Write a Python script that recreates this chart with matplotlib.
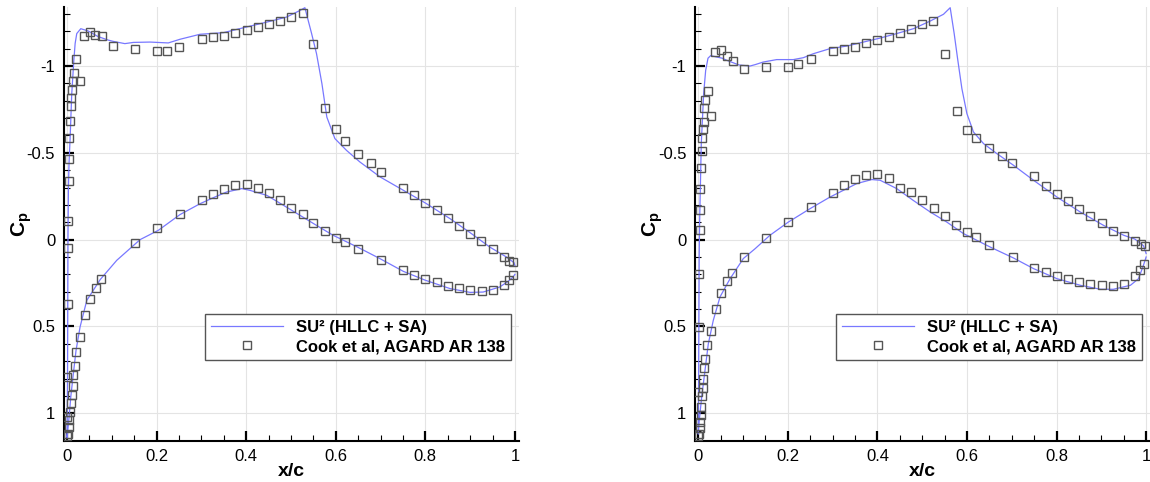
import matplotlib
matplotlib.use("Agg")
import matplotlib.pyplot as plt
from matplotlib.ticker import MultipleLocator, FuncFormatter
from matplotlib.lines import Line2D

plt.rcParams['font.family'] = ['Liberation Sans', 'DejaVu Sans']
plt.rcParams['axes.unicode_minus'] = False
plt.rcParams['mathtext.fontset'] = 'custom'
plt.rcParams['mathtext.bf'] = 'Liberation Sans:bold'
plt.rcParams['mathtext.rm'] = 'Liberation Sans'

# ---------------- Case A ----------------
# SU2 (HLLC + SA) surface pressure, upper and lower surfaces (LE -> TE)
cfd_a_upper_x = [0.0, 0.001, 0.0015, 0.002, 0.003, 0.0045, 0.0067, 0.0104, 0.015, 0.018,
                 0.0216, 0.0306, 0.047, 0.069, 0.091, 0.103, 0.129, 0.148, 0.185, 0.226,
                 0.252, 0.297, 0.349, 0.401, 0.446, 0.49, 0.52, 0.531, 0.546, 0.557,
                 0.569, 0.58, 0.598, 0.624, 0.654, 0.699, 0.751, 0.800, 0.855, 0.9,
                 0.944, 0.981, 0.998, 1.0]
cfd_a_upper_cp = [1.14, 0.8, 0.4, 0.0, -0.3, -0.45, -0.58, -0.84, -1.03, -1.13,
                  -1.187, -1.215, -1.202, -1.17, -1.15, -1.142, -1.129, -1.136, -1.138, -1.133,
                  -1.154, -1.183, -1.192, -1.225, -1.253, -1.282, -1.32, -1.336, -1.187, -1.071,
                  -0.899, -0.706, -0.582, -0.514, -0.447, -0.361, -0.284, -0.211, -0.121, -0.04,
                  0.043, 0.10, 0.133, 0.15]
cfd_a_lower_x = [0.0, 0.0015, 0.0045, 0.0082, 0.014, 0.02, 0.029, 0.044, 0.074, 0.111,
                 0.163, 0.204, 0.252, 0.297, 0.327, 0.356, 0.39, 0.408, 0.446, 0.483,
                 0.52, 0.557, 0.594, 0.65, 0.699, 0.751, 0.8, 0.855, 0.9, 0.929,
                 0.966, 0.985, 0.996, 1.0]
cfd_a_lower_cp = [1.137, 1.099, 1.022, 0.907, 0.772, 0.638, 0.503, 0.35, 0.23, 0.119,
                  0.0, -0.054, -0.144, -0.207, -0.242, -0.274, -0.294, -0.284, -0.255, -0.198,
                  -0.14, -0.082, -0.025, 0.045, 0.11, 0.183, 0.234, 0.282, 0.304, 0.302,
                  0.273, 0.24, 0.215, 0.2]

# Cook et al, AGARD AR 138 measurements
exp_a_upper_x = [0.003, 0.003, 0.0045, 0.0045, 0.005, 0.0067, 0.0082, 0.0097, 0.011, 0.0134,
                 0.0156, 0.021, 0.0297, 0.0387, 0.051, 0.063, 0.077, 0.102, 0.151, 0.2016,
                 0.2225, 0.251, 0.301, 0.3266, 0.351, 0.376, 0.401, 0.426, 0.451, 0.476,
                 0.501, 0.526, 0.550, 0.5766, 0.601, 0.620, 0.650, 0.678, 0.701, 0.750,
                 0.775, 0.800, 0.826, 0.850, 0.875, 0.900, 0.925, 0.951, 0.975, 0.987,
                 0.996]
exp_a_upper_cp = [0.046, -0.107, -0.336, -0.463, -0.585, -0.681, -0.768, -0.818, -0.86, -0.914,
                  -0.962, -1.043, -0.914, -1.173, -1.194, -1.179, -1.173, -1.113, -1.098, -1.085,
                  -1.089, -1.112, -1.154, -1.165, -1.173, -1.192, -1.21, -1.227, -1.242, -1.259,
                  -1.282, -1.307, -1.125, -0.756, -0.635, -0.568, -0.495, -0.44, -0.392, -0.30,
                  -0.257, -0.211, -0.169, -0.123, -0.077, -0.034, 0.01, 0.054, 0.10, 0.125,
                  0.13]
exp_a_lower_x = [0.0, 0.0, 0.0005, 0.0015, 0.003, 0.004, 0.0052, 0.0067, 0.0089, 0.0105,
                 0.0127, 0.014, 0.0171, 0.0208, 0.028, 0.0395, 0.0513, 0.064, 0.0766, 0.151,
                 0.2016, 0.2515, 0.301, 0.3266, 0.351, 0.376, 0.401, 0.426, 0.451, 0.476,
                 0.501, 0.526, 0.550, 0.5766, 0.601, 0.620, 0.650, 0.701, 0.750, 0.775,
                 0.800, 0.826, 0.850, 0.876, 0.900, 0.926, 0.951, 0.975, 0.987, 0.996]
exp_a_lower_cp = [1.13, 0.79, 1.02, 0.373, 1.12, 1.08, 1.041, 0.995, 0.941, 0.895,
                  0.841, 0.782, 0.728, 0.647, 0.563, 0.436, 0.344, 0.276, 0.225, 0.02,
                  -0.065, -0.15, -0.226, -0.265, -0.294, -0.317, -0.319, -0.299, -0.268, -0.23,
                  -0.184, -0.146, -0.098, -0.052, -0.011, 0.014, 0.053, 0.119, 0.177, 0.202,
                  0.229, 0.246, 0.265, 0.277, 0.29, 0.294, 0.288, 0.26, 0.234, 0.206]

# ---------------- Case B ----------------
cfd_b_upper_x = [0.0, 0.0008, 0.0015, 0.002, 0.003, 0.0038, 0.0067, 0.012, 0.0165, 0.0217,
                 0.0277, 0.041, 0.0536, 0.0634, 0.091, 0.1155, 0.127, 0.145, 0.175, 0.212,
                 0.2346, 0.257, 0.294, 0.3316, 0.3687, 0.406, 0.443, 0.4805, 0.5178, 0.5475,
                 0.5625, 0.5714, 0.579, 0.5886, 0.5998, 0.6145, 0.637, 0.667, 0.704, 0.7486,
                 0.801, 0.853, 0.905, 0.95, 0.975, 0.994, 1.0]
cfd_b_upper_cp = [1.12, 0.8, 0.4, 0.1, -0.1, -0.2, -0.553, -0.841, -0.975, -1.045,
                  -1.06, -1.052, -1.045, -1.033, -1.006, -1.0, -1.008, -1.023, -1.037, -1.037,
                  -1.048, -1.071, -1.10, -1.115, -1.138, -1.161, -1.187, -1.215, -1.259, -1.298,
                  -1.336, -1.187, -1.043, -0.87, -0.726, -0.62, -0.553, -0.495, -0.428, -0.342,
                  -0.245, -0.159, -0.082, -0.025, -0.003, 0.035, 0.08]
cfd_b_lower_x = [0.0, 0.0022, 0.0076, 0.015, 0.0224, 0.0335, 0.0485, 0.071, 0.1006, 0.127,
                 0.16, 0.201, 0.25, 0.294, 0.324, 0.354, 0.3875, 0.406, 0.443, 0.48,
                 0.518, 0.555, 0.592, 0.652, 0.704, 0.7486, 0.801, 0.853, 0.898, 0.927,
                 0.965, 0.983, 0.994, 1.0]
cfd_b_lower_cp = [1.118, 1.041, 0.907, 0.753, 0.6, 0.465, 0.33, 0.225, 0.109, 0.052,
                  -0.025, -0.101, -0.179, -0.245, -0.284, -0.323, -0.346, -0.342, -0.294, -0.226,
                  -0.159, -0.101, -0.035, 0.043, 0.106, 0.167, 0.225, 0.263, 0.286, 0.286,
                  0.263, 0.225, 0.148, 0.10]

exp_b_upper_x = [0.003, 0.0038, 0.0045, 0.006, 0.0076, 0.009, 0.0098, 0.012, 0.0134, 0.0157,
                 0.021, 0.0284, 0.037, 0.0514, 0.0634, 0.0768, 0.1014, 0.1506, 0.2011, 0.222,
                 0.251, 0.301, 0.326, 0.351, 0.3754, 0.4, 0.4255, 0.4507, 0.476, 0.5006,
                 0.525, 0.551, 0.5766, 0.601, 0.6206, 0.650, 0.6787, 0.701, 0.750, 0.7755,
                 0.801, 0.826, 0.851, 0.875, 0.9006, 0.926, 0.951, 0.976, 0.9886, 0.997]
exp_b_upper_cp = [-0.054, -0.169, -0.29, -0.412, -0.509, -0.587, -0.639, -0.677, -0.76, -0.802,
                  -0.856, -0.712, -1.08, -1.09, -1.056, -1.029, -0.983, -0.994, -0.996, -1.012,
                  -1.04, -1.085, -1.098, -1.109, -1.131, -1.152, -1.167, -1.192, -1.213, -1.24,
                  -1.259, -1.067, -0.741, -0.631, -0.585, -0.528, -0.48, -0.443, -0.365, -0.311,
                  -0.265, -0.221, -0.179, -0.134, -0.094, -0.05, -0.02, 0.009, 0.026, 0.037]
exp_b_lower_x = [0.0, 0.001, 0.001, 0.0, 0.0016, 0.003, 0.0038, 0.0053, 0.0067, 0.0083,
                 0.0098, 0.0112, 0.0127, 0.0157, 0.0201, 0.0284, 0.0388, 0.0507, 0.0634, 0.076,
                 0.1014, 0.1506, 0.2011, 0.251, 0.301, 0.326, 0.351, 0.3754, 0.4, 0.4255,
                 0.4507, 0.476, 0.5006, 0.526, 0.551, 0.576, 0.601, 0.6206, 0.650, 0.7017,
                 0.750, 0.7755, 0.801, 0.826, 0.851, 0.875, 0.9006, 0.926, 0.951, 0.976,
                 0.987, 0.996]
exp_b_lower_cp = [1.13, 0.196, 0.503, 0.878, 1.122, 1.085, 1.05, 1.012, 0.964, 0.903,
                  0.857, 0.805, 0.741, 0.688, 0.609, 0.528, 0.40, 0.307, 0.24, 0.19,
                  0.10, -0.012, -0.101, -0.188, -0.268, -0.313, -0.351, -0.374, -0.38, -0.356,
                  -0.297, -0.274, -0.226, -0.18, -0.134, -0.086, -0.042, -0.013, 0.033, 0.10,
                  0.161, 0.188, 0.211, 0.229, 0.246, 0.253, 0.263, 0.267, 0.253, 0.21,
                  0.173, 0.138]

x_ticks = [0, 0.2, 0.4, 0.6, 0.8, 1]
cp_ticks = [-1, -0.5, 0, 0.5, 1]
legend_labels = ['SU\u00b2 (HLLC + SA)', 'Cook et al, AGARD AR 138']

LINE_COLOR = '#7878ff'
MARK_EDGE = '#555555'


def fmt(v, pos):
    return '%g' % v


def draw_panel(ax, up_x, up_cp, lo_x, lo_cp, ex_ux, ex_ucp, ex_lx, ex_lcp):
    # one continuous contour: TE -> upper -> LE -> lower -> TE
    cx = list(reversed(up_x)) + list(lo_x)
    cy = list(reversed(up_cp)) + list(lo_cp)
    ax.plot(cx, cy, color=LINE_COLOR, lw=0.9, zorder=3)
    ax.plot(ex_ux + ex_lx, ex_ucp + ex_lcp, ls='none', marker='s', ms=5.2,
            mfc='none', mec=MARK_EDGE, mew=1.0, zorder=4)

    ax.set_xlim(-0.008, 1.008)
    ax.set_ylim(1.16, -1.34)
    ax.set_xticks(x_ticks)
    ax.set_yticks(cp_ticks)
    ax.xaxis.set_minor_locator(MultipleLocator(0.05))
    ax.yaxis.set_minor_locator(MultipleLocator(0.1))
    ax.xaxis.set_major_formatter(FuncFormatter(fmt))
    ax.yaxis.set_major_formatter(FuncFormatter(fmt))
    ax.grid(True, which='major', color='#e4e4e4', lw=0.8, zorder=0)
    ax.set_axisbelow(True)

    for s in ('top', 'right'):
        ax.spines[s].set_visible(False)
    for s in ('left', 'bottom'):
        ax.spines[s].set_linewidth(1.5)
        ax.spines[s].set_color('black')
    ax.tick_params(which='major', direction='in', length=7.5, width=1.6,
                   labelsize=12, pad=6, colors='black')
    ax.tick_params(which='minor', direction='in', length=4, width=0.8, colors='black')
    ax.tick_params(top=False, right=False, which='both')

    ax.set_xlabel('x/c', fontsize=14, fontweight='bold')
    ax.xaxis.set_label_coords(0.5, -0.05)
    ax.set_ylabel(r'$\mathbf{C_p}$', fontsize=15)
    ax.yaxis.set_label_coords(-0.065, 0.5)

    handles = [Line2D([], [], color=LINE_COLOR, lw=0.9),
               Line2D([], [], ls='none', marker='s', ms=5.2, mfc='none',
                      mec=MARK_EDGE, mew=1.0)]
    leg = ax.legend(handles, legend_labels, loc='lower left',
                    bbox_to_anchor=(0.311, 0.1866), borderaxespad=0,
                    fancybox=False, framealpha=1, edgecolor='#555555',
                    handlelength=4.3, handletextpad=0.8, labelspacing=0.25,
                    borderpad=0.35, numpoints=1,
                    prop={'weight': 'bold', 'size': 12})
    leg.get_frame().set_linewidth(1.0)


fig = plt.figure(figsize=(11.5, 4.82), dpi=100)
ax_a = fig.add_axes([63.5 / 1150, 41 / 482, 455 / 1150, 434 / 482])
ax_b = fig.add_axes([694.7 / 1150, 41 / 482, 455 / 1150, 434 / 482])

draw_panel(ax_a, cfd_a_upper_x, cfd_a_upper_cp, cfd_a_lower_x, cfd_a_lower_cp,
           exp_a_upper_x, exp_a_upper_cp, exp_a_lower_x, exp_a_lower_cp)
draw_panel(ax_b, cfd_b_upper_x, cfd_b_upper_cp, cfd_b_lower_x, cfd_b_lower_cp,
           exp_b_upper_x, exp_b_upper_cp, exp_b_lower_x, exp_b_lower_cp)

fig.savefig('out.png', dpi=100)
